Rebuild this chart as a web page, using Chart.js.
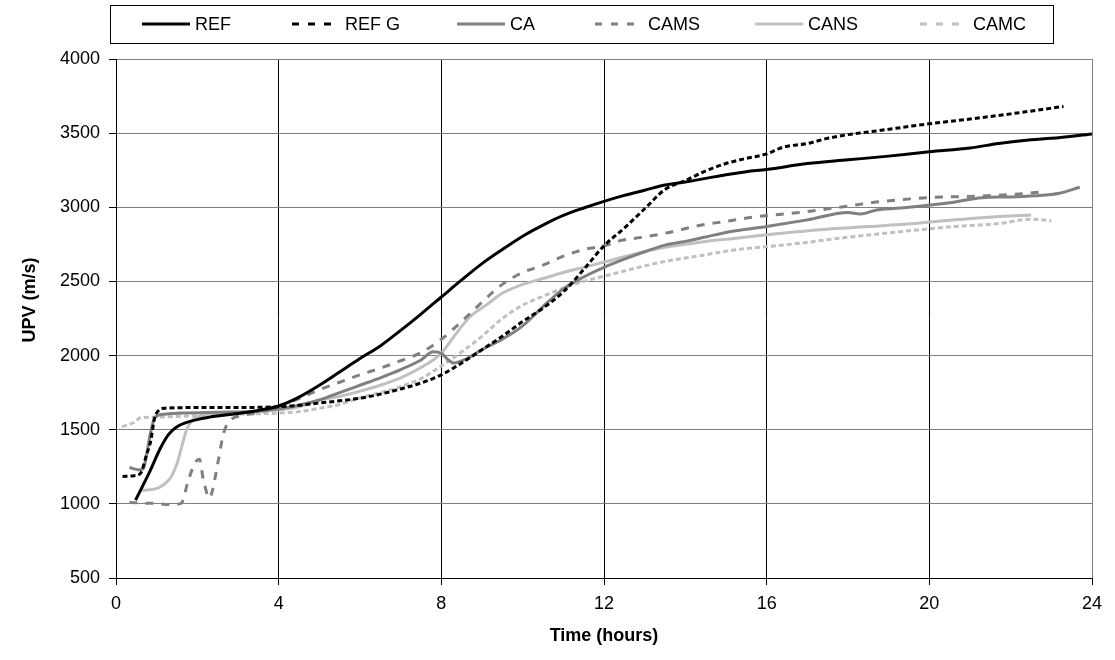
<!DOCTYPE html>
<html>
<head>
<meta charset="utf-8">
<title>UPV vs time</title>
<script src="https://cdn.jsdelivr.net/npm/chart.js@4.4.1/dist/chart.umd.min.js"></script>
<style>
  html, body { margin: 0; padding: 0; background: #fff; }
  #wrap { width: 1115px; height: 660px; position: relative; }
</style>
</head>
<body>
<div id="wrap"><canvas id="upvChart" width="1115" height="660"></canvas></div>
<script>
// Ultrasonic pulse velocity (m/s) against time (hours) for each mix
const xTicks = [0, 4, 8, 12, 16, 20, 24];
const yTicks = [500, 1000, 1500, 2000, 2500, 3000, 3500, 4000];

const refHours = [0.48, 0.8, 1.1, 1.3, 1.5, 1.8, 2.3, 3.0, 3.5, 4.0, 4.5, 5.0, 5.5, 6.0, 6.5, 7.0, 7.5, 8.0, 8.5, 9.0, 9.5, 10.0, 10.5, 11.0, 11.5, 12.0, 12.5, 13.0, 13.5, 14.0, 14.5, 15.0, 15.5, 16.0, 17.0, 18.0, 19.0, 20.0, 21.0, 21.7, 22.5, 23.0, 24.0];
const refUpv = [1025, 1200, 1380, 1470, 1520, 1555, 1585, 1610, 1630, 1660, 1720, 1800, 1890, 1980, 2065, 2170, 2280, 2395, 2510, 2620, 2715, 2805, 2880, 2945, 2995, 3040, 3080, 3115, 3150, 3170, 3195, 3220, 3240, 3255, 3295, 3320, 3345, 3375, 3400, 3430, 3455, 3465, 3495];

const refGHours = [0.16, 0.45, 0.6, 0.75, 0.85, 0.95, 1.05, 1.2, 1.5, 2.0, 3.0, 4.0, 4.5, 5.0, 5.5, 6.0, 6.5, 7.0, 7.5, 8.0, 8.5, 9.0, 9.5, 10.0, 10.5, 11.0, 11.5, 12.0, 12.5, 13.0, 13.5, 14.0, 14.5, 15.0, 15.5, 16.0, 16.4, 17.0, 17.5, 18.0, 18.7, 19.5, 20.0, 21.0, 22.0, 23.3];
const refGUpv = [1185, 1190, 1205, 1330, 1420, 1580, 1630, 1645, 1648, 1650, 1650, 1655, 1665, 1680, 1695, 1712, 1740, 1775, 1815, 1870, 1950, 2040, 2130, 2230, 2320, 2430, 2580, 2740, 2860, 2990, 3120, 3180, 3245, 3295, 3330, 3360, 3405, 3430, 3465, 3490, 3515, 3545, 3563, 3595, 3630, 3680];

const caHours = [0.33, 0.55, 0.67, 0.75, 0.85, 0.96, 1.2, 1.65, 2.5, 3.5, 4.0, 4.5, 5.0, 5.5, 6.0, 6.5, 7.0, 7.5, 7.8, 8.0, 8.15, 8.3, 8.6, 9.0, 9.5, 10.0, 10.5, 11.0, 11.5, 12.0, 12.5, 13.0, 13.5, 14.0, 14.5, 15.0, 16.0, 17.0, 18.0, 18.3, 18.7, 19.5, 20.5, 21.3, 22.0, 22.6, 23.2, 23.7];
const caUpv = [1245, 1230, 1235, 1330, 1480, 1585, 1605, 1612, 1618, 1625, 1640, 1665, 1700, 1750, 1800, 1850, 1905, 1970, 2025, 2015, 1975, 1950, 1975, 2040, 2110, 2200, 2330, 2450, 2530, 2595, 2650, 2700, 2745, 2770, 2800, 2830, 2870, 2915, 2965, 2955, 2982, 3000, 3030, 3065, 3070, 3078, 3095, 3135];

const camsHours = [0.33, 0.7, 1.0, 1.3, 1.6, 1.78, 1.95, 2.05, 2.15, 2.3, 2.38, 2.5, 2.65, 2.8, 3.0, 3.5, 4.0, 4.5, 5.0, 5.5, 6.0, 6.5, 7.0, 7.5, 8.0, 8.5, 9.0, 9.5, 10.0, 10.5, 11.0, 11.5, 12.0, 12.4, 13.0, 13.5, 14.4, 15.0, 15.7, 16.8, 18.0, 18.7, 20.0, 21.3, 22.2, 22.8];
const camsUpv = [1010, 1005, 1003, 995, 1003, 1160, 1280, 1300, 1160, 1040, 1100, 1270, 1480, 1560, 1590, 1615, 1660, 1710, 1770, 1820, 1870, 1915, 1965, 2020, 2110, 2230, 2360, 2480, 2560, 2610, 2670, 2715, 2740, 2775, 2800, 2825, 2880, 2905, 2935, 2965, 3008, 3035, 3065, 3076, 3090, 3105];

const cansHours = [0.6, 0.85, 1.05, 1.2, 1.35, 1.5, 1.65, 1.75, 1.9, 2.1, 2.5, 3.0, 3.5, 4.0, 4.5, 5.0, 5.5, 6.0, 6.5, 7.0, 7.5, 7.8, 8.0, 8.3, 8.7, 9.1, 9.5, 10.0, 10.5, 11.0, 11.5, 12.0, 12.7, 13.5, 14.5, 15.2, 16.0, 16.8, 17.6, 18.5, 19.7, 20.5, 21.3, 22.5];
const cansUpv = [1090, 1095, 1110, 1135, 1180, 1270, 1420, 1510, 1570, 1595, 1610, 1615, 1625, 1635, 1655, 1700, 1725, 1760, 1800, 1850, 1920, 1970, 2015, 2125, 2260, 2340, 2420, 2480, 2520, 2560, 2595, 2630, 2680, 2730, 2770, 2790, 2815, 2836, 2855, 2870, 2892, 2912, 2930, 2948];

const camcHours = [0.15, 0.45, 0.6, 1.0, 2.0, 3.0, 4.0, 4.5, 5.0, 5.5, 6.0, 6.5, 7.0, 7.5, 8.0, 8.5, 9.0, 9.5, 10.0, 10.5, 11.0, 11.5, 12.0, 12.5, 13.0, 13.5, 14.5, 15.2, 16.0, 16.8, 17.6, 18.5, 19.7, 20.5, 21.7, 22.5, 23.0];
const camcUpv = [1520, 1550, 1580, 1585, 1595, 1605, 1612, 1622, 1645, 1670, 1715, 1750, 1790, 1845, 1930, 2025, 2130, 2250, 2340, 2400, 2455, 2500, 2535, 2570, 2605, 2635, 2680, 2712, 2735, 2757, 2785, 2813, 2847, 2868, 2890, 2920, 2910];

const seriesNames = ["REF", "REF G", "CA", "CAMS", "CANS", "CAMC"];

function toPoints(hours, upv) {
    return hours.map((h, i) => ({ x: h, y: upv[i] }));
}

const lineStyles = [
    { color: "#000000", dash: [] },
    { color: "#000000", dash: [5, 3] },
    { color: "#808080", dash: [] },
    { color: "#808080", dash: [8, 8] },
    { color: "#c0c0c0", dash: [] },
    { color: "#c0c0c0", dash: [5, 3] }
];

const allPoints = [
    toPoints(refHours, refUpv),
    toPoints(refGHours, refGUpv),
    toPoints(caHours, caUpv),
    toPoints(camsHours, camsUpv),
    toPoints(cansHours, cansUpv),
    toPoints(camcHours, camcUpv)
];

const datasets = seriesNames.map((name, i) => ({
    label: name,
    data: allPoints[i],
    borderColor: lineStyles[i].color,
    borderDash: lineStyles[i].dash,
    borderWidth: 3,
    pointRadius: 0,
    fill: false,
    cubicInterpolationMode: "monotone"
}));

// legend entries sit in a boxed row above the plot
const legendX = [142, 292, 457, 595, 755, 920];

const boxLegend = {
    id: "boxLegend",
    afterDraw(chart) {
        const ctx = chart.ctx;
        ctx.save();
        ctx.strokeStyle = "#000";
        ctx.lineWidth = 1;
        ctx.strokeRect(110.5, 5.5, 943, 38);
        ctx.font = "18px 'Liberation Sans', Arial, sans-serif";
        ctx.textBaseline = "middle";
        ctx.fillStyle = "#000";
        seriesNames.forEach((name, i) => {
            const x = legendX[i];
            ctx.beginPath();
            ctx.strokeStyle = lineStyles[i].color;
            ctx.lineWidth = 3;
            ctx.setLineDash(lineStyles[i].dash.length ? [7, 9] : []);
            ctx.moveTo(x, 24);
            ctx.lineTo(x + 48, 24);
            ctx.stroke();
            ctx.setLineDash([]);
            ctx.fillText(name, x + 53, 25);
        });
        // vertical axis title
        ctx.translate(30, 300);
        ctx.rotate(-Math.PI / 2);
        ctx.textAlign = "center";
        ctx.font = "bold 18px 'Liberation Sans', Arial, sans-serif";
        ctx.fillText("UPV (m/s)", 0, 0);
        ctx.restore();
    }
};

const ctx = document.getElementById("upvChart").getContext("2d");
const upvChart = new Chart(ctx, {
    type: "line",
    data: { datasets: datasets },
    options: {
        responsive: false,
        animation: false,
        layout: { padding: { top: 59, right: 23, left: 0, bottom: 0 } },
        plugins: {
            legend: { display: false },
            tooltip: { enabled: false }
        },
        scales: {
            x: {
                type: "linear",
                min: 0,
                max: 24,
                afterBuildTicks: (scale) => { scale.ticks = xTicks.map(v => ({ value: v })); },
                afterFit: (scale) => { scale.height = 82; },
                ticks: {
                    color: "#000",
                    padding: 8,
                    callback: (v) => String(v),
                    font: { family: "'Liberation Sans', Arial, sans-serif", size: 18 }
                },
                grid: {
                    color: (c) => (c.index === xTicks.length - 1 ? "#808080" : "#000"),
                    tickColor: "#000",
                    tickLength: 7,
                    lineWidth: 1
                },
                border: { color: "#000", width: 1 },
                title: {
                    display: true,
                    text: "Time (hours)",
                    color: "#000",
                    padding: { top: 0, bottom: 13 },
                    font: { family: "'Liberation Sans', Arial, sans-serif", size: 18, weight: "bold" }
                }
            },
            y: {
                min: 500,
                max: 4000,
                afterBuildTicks: (scale) => { scale.ticks = yTicks.map(v => ({ value: v })); },
                afterFit: (scale) => { scale.width = 116; },
                ticks: {
                    color: "#000",
                    padding: 9,
                    callback: (v) => String(v),
                    font: { family: "'Liberation Sans', Arial, sans-serif", size: 18 }
                },
                grid: {
                    color: "#808080",
                    tickColor: "#000",
                    tickLength: 7,
                    lineWidth: 1
                },
                border: { color: "#000", width: 1 }
            }
        }
    },
    plugins: [boxLegend]
});
</script>
</body>
</html>
